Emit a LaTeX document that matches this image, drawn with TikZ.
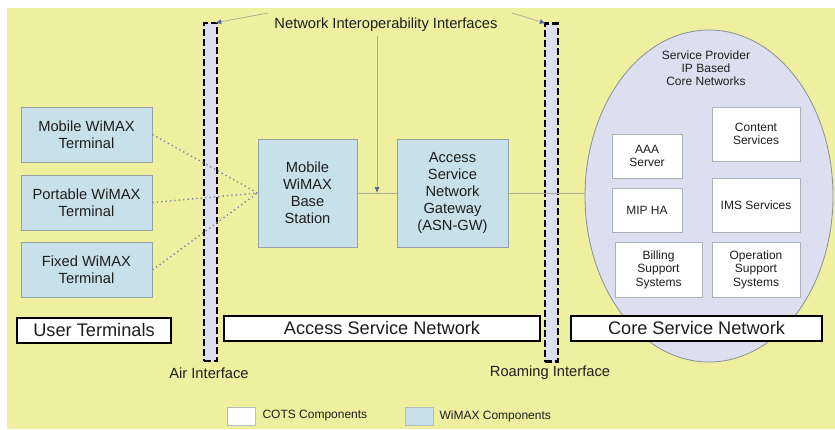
\documentclass[tikz,border=0pt]{standalone}
\usepackage{fontspec}
\setmainfont{Liberation Sans}
\usetikzlibrary{shapes.geometric,arrows.meta}

\definecolor{bgyellow}{RGB}{238,240,160}
\definecolor{wimaxblue}{RGB}{200,224,234}
\definecolor{lavender}{RGB}{221,222,240}
\definecolor{boxedge}{RGB}{150,160,165}
\definecolor{linkgray}{RGB}{168,172,150}
\definecolor{dotblue}{RGB}{125,140,165}
\definecolor{tipblue}{RGB}{85,100,155}
\definecolor{inktext}{RGB}{30,30,30}

\tikzset{
  wimax/.style={draw=boxedge, fill=wimaxblue, line width=0.8pt, align=center,
    inner sep=0pt, text=inktext, font=\fontsize{14.7}{17}\selectfont},
  cots/.style={draw=boxedge!80, fill=white, line width=0.8pt, align=center,
    inner sep=0pt, text=inktext, font=\fontsize{12}{13.5}\selectfont},
  netlabel/.style={draw=black, fill=white, line width=2pt, inner sep=0pt,
    minimum height=25, text=inktext, font=\fontsize{18.2}{22}\selectfont},
  ifacebar/.style={draw=black, fill=lavender, line width=2.4pt,
    dash pattern=on 7pt off 3pt, inner sep=0pt, minimum width=13, minimum height=338},
  caption/.style={text=inktext, font=\fontsize{14.7}{17}\selectfont},
  legendbox/.style={draw=boxedge!70, line width=0.8pt, minimum width=28, minimum height=18},
  radio/.style={draw=dotblue, line width=1.4pt, dash pattern=on 1.4pt off 3pt},
  wire/.style={draw=linkgray, line width=1pt},
  pointer/.style={draw=linkgray, line width=0.7pt,
    -{Latex[length=6pt,width=5pt,color=tipblue]}}
}

\begin{document}
\begin{tikzpicture}[x=1pt,y=-1pt]
\useasboundingbox (0,0) rectangle (835,429);
\fill[bgyellow] (7,8) rectangle (835,429);

% core network cloud
\node[ellipse, draw=boxedge!90!black, fill=lavender, line width=0.8pt,
  minimum width=248, minimum height=332, inner sep=0pt] (core) at (709,196) {};
\node[text=inktext, align=center, font=\fontsize{12}{13}\selectfont] (sp) at (706,68)
  {Service Provider\\IP Based\\Core Networks};

% interface bars
\node[ifacebar] (airbar) at (210.5,192) {};
\node[ifacebar] (roambar) at (551.5,192.5) {};
\node[caption] (air) at (209,373) {Air Interface};
\node[caption] (roam) at (550,373) {Roaming Interface};

% user terminals
\node[wimax, minimum width=131, minimum height=55] (mobile) at (86.5,134.5) {Mobile WiMAX\\Terminal};
\node[wimax, minimum width=131, minimum height=55] (portable) at (86.5,202.5) {Portable WiMAX\\Terminal};
\node[wimax, minimum width=131, minimum height=55] (fixed) at (86.5,270) {Fixed WiMAX\\Terminal};

% access service network
\node[wimax, minimum width=99, minimum height=108] (bs) at (307.5,193) {Mobile\\WiMAX\\Base\\Station};
\node[wimax, minimum width=111, minimum height=108] (asngw) at (452.5,193)
  {Access\\Service\\Network\\Gateway\\(ASN-GW)};

% core services
\node[cots, minimum width=70, minimum height=44] (aaa) at (647,156) {AAA\\Server};
\node[cots, minimum width=88, minimum height=54] (content) at (756,134) {Content\\Services};
\node[cots, minimum width=70, minimum height=44] (mipha) at (647,210) {MIP HA};
\node[cots, minimum width=88, minimum height=54] (ims) at (756,205) {IMS Services};
\node[cots, minimum width=87, minimum height=55] (billing) at (658.5,269.5) {Billing\\Support\\Systems};
\node[cots, minimum width=88, minimum height=55] (oss) at (756,269.5) {Operation\\Support\\Systems};

% network labels
\node[netlabel, minimum width=154] (ut) at (94,330) {User Terminals};
\node[netlabel, minimum width=316] (asn) at (382,328) {Access Service Network};
\node[netlabel, minimum width=251] (csn) at (696.5,328) {Core Service Network};

% links
\draw[radio] (mobile.east) -- (bs.west);
\draw[radio] (portable.east) -- (bs.west);
\draw[radio] (fixed.east) -- (bs.west);
\draw[wire] (bs.east) -- (asngw.west);
\draw[wire] (asngw.east) -- (asngw.east -| core.west);

% interoperability pointers
\node[caption] (nii) at (386,25) {Network Interoperability Interfaces};
\coordinate (niileft) at (268,13);
\coordinate (niiright) at (512,13);
\coordinate (niidown) at (377,36);
\coordinate (tap) at (377,193);
\draw[pointer] (niileft) -- ([xshift=-3pt,yshift=-1pt]airbar.north east);
\draw[pointer] (niiright) -- ([xshift=2pt,yshift=-1pt]roambar.north west);
\draw[pointer] (niidown) -- (tap);

% legend
\node[legendbox, fill=white] (cotskey) at (241,416) {};
\node[anchor=west, text=inktext, font=\fontsize{12}{14}\selectfont] (cotstext) at (259,416) {COTS Components};
\node[legendbox, fill=wimaxblue] (wimaxkey) at (419,416) {};
\node[anchor=west, text=inktext, font=\fontsize{12}{14}\selectfont] (wimaxtext) at (436,416) {WiMAX Components};
\end{tikzpicture}
\end{document}
